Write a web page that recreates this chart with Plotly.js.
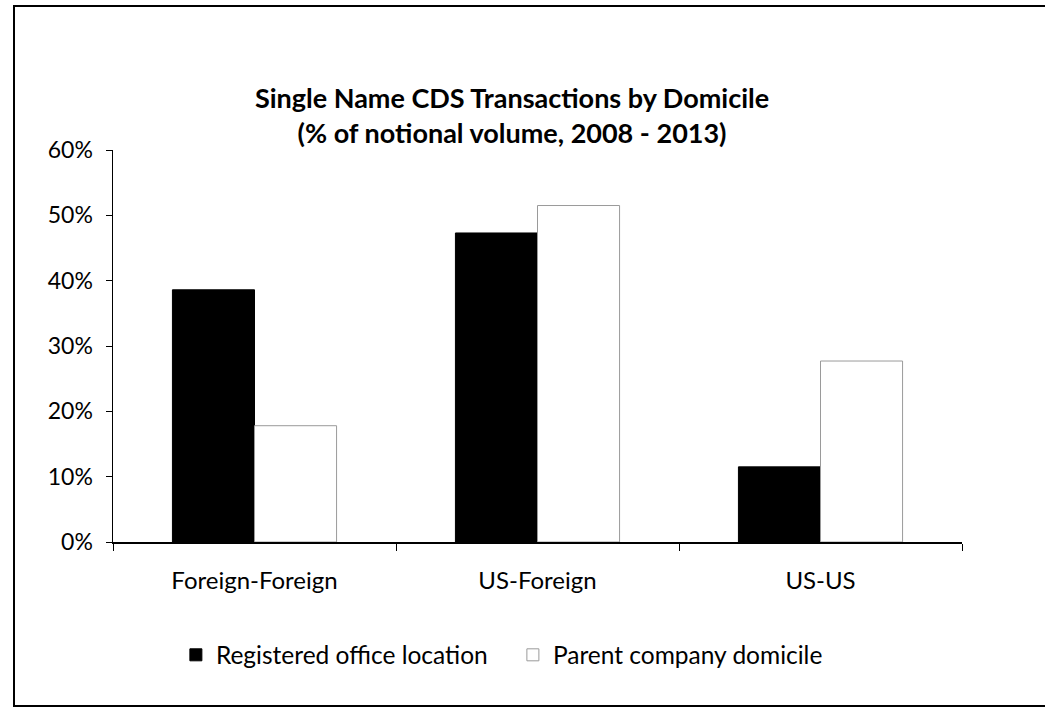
<!DOCTYPE html>
<html>
<head>
<meta charset="utf-8">
<script src="https://cdn.plot.ly/plotly-3.0.1.min.js"></script>
<style>
  html, body { margin: 0; padding: 0; background: #fff; }
  #wrap { position: relative; width: 1045px; height: 709px; }
  #frame { position: absolute; left: 13px; top: 5px; width: 1040px; height: 698px;
           border-left: 2px solid #000; border-top: 2px solid #000; border-bottom: 2px solid #000; pointer-events: none; }
  #chart { position: absolute; left: 0; top: 0; width: 1045px; height: 709px; }
</style>
</head>
<body>
<div id="wrap">
  <div id="chart"></div>
  <div id="frame"></div>
</div>
<script>
const categories = ["Foreign-Foreign", "US-Foreign", "US-US"];
const registeredOffice = [38.6, 47.3, 11.5];
const parentDomicile = [17.8, 51.5, 27.7];
const seriesNames = ["Registered office location", "Parent company domicile"];
const yTicks = [0, 10, 20, 30, 40, 50, 60];
const yTickLabels = ["0%", "10%", "20%", "30%", "40%", "50%", "60%"];

const font = "Lato, 'Open Sans', sans-serif";

const traces = [
  {
    type: "bar", name: seriesNames[0], x: categories, y: registeredOffice,
    marker: { color: "#000000", line: { color: "#000000", width: 1 } },
    hoverinfo: "skip"
  },
  {
    type: "bar", name: seriesNames[1], x: categories, y: parentDomicile,
    marker: { color: "#ffffff", line: { color: "#9a9a9a", width: 1 } },
    hoverinfo: "skip"
  }
];

const layout = {
  width: 1045, height: 709,
  margin: { l: 113, r: 83, t: 150, b: 167 },
  paper_bgcolor: "#ffffff", plot_bgcolor: "#ffffff",
  font: { family: font, color: "#000", size: 23 },
  title: {
    text: "<b>Single Name CDS Transactions by Domicile<br>(% of notional volume, 2008 - 2013)</b>",
    font: { family: font, size: 27, color: "#000" },
    x: 0.49, xanchor: "center", xref: "container",
    y: 1 - 108 / 709, yanchor: "top", yref: "container"
  },
  barmode: "group", bargap: 0.42, bargroupgap: 0,
  showlegend: true,
  legend: {
    orientation: "h", x: 0.471, xanchor: "center", y: -0.288, yanchor: "middle",
    font: { family: font, size: 24.5, color: "#000" },
    itemwidth: 30, traceorder: "normal", entrywidthmode: "pixels", entrywidth: 292
  },
  xaxis: {
    type: "category", showline: true, linecolor: "#000", linewidth: 1.5,
    ticks: "outside", tickson: "boundaries", ticklen: 7, tickcolor: "#000",
    showgrid: false, zeroline: false, ticklabelstandoff: 17,
    tickfont: { family: font, size: 24, color: "#000" }
  },
  yaxis: {
    range: [0, 60], tickvals: yTicks, ticktext: yTickLabels,
    showline: true, linecolor: "#000", linewidth: 1.5,
    ticks: "outside", ticklen: 6, tickcolor: "#000",
    showgrid: false, zeroline: false, ticklabelstandoff: 8,
    tickfont: { family: font, size: 23, color: "#000" }
  }
};

Plotly.newPlot("chart", traces, layout, { staticPlot: true, displayModeBar: false });
</script>
</body>
</html>
